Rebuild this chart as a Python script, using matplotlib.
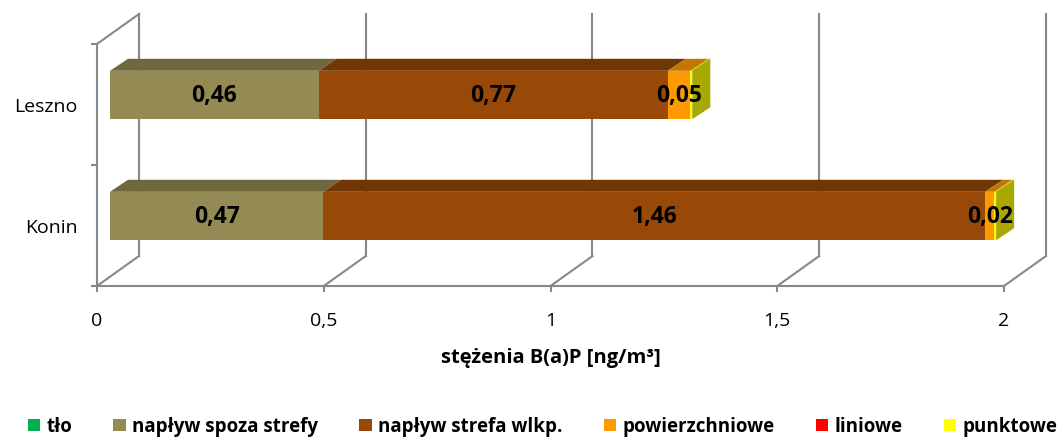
import matplotlib.pyplot as plt
from matplotlib.patches import Polygon, Rectangle

# data
cities = ["Konin", "Leszno"]
series = ["tło", "napływ spoza strefy", "napływ strefa wlkp.", "powierzchniowe", "liniowe", "punktowe"]
tlo = [0.0, 0.0]
naplyw_spoza = [0.47, 0.46]
naplyw_wlkp = [1.46, 0.77]
powierzchniowe = [0.02, 0.05]
liniowe = [0.0, 0.0]
punktowe = [0.004, 0.004]
values = [tlo, naplyw_spoza, naplyw_wlkp, powierzchniowe, liniowe, punktowe]
labelled = [1, 2, 3]  # series that get data labels

front = ["#00b050", "#948a54", "#984807", "#ff9900", "#ff0000", "#ffff00"]
top = ["#00843c", "#6f683f", "#723605", "#c47600", "#bf0000", "#c4c400"]
side = ["#007a38", "#676039", "#6a3204", "#b06a00", "#b00000", "#a8a800"]

plt.rcParams['font.family'] = ['Open Sans', 'DejaVu Sans']

W, H = 1062, 439
fig = plt.figure(figsize=(W / 100, H / 100), dpi=100)
sx, sy = 453.5, 121.0          # px per data unit
x0px, y0px = 97, 287           # pixel of (0, -0.5)
ax = fig.add_axes([x0px / W, (H - y0px) / H, (1052 - x0px) / W, (y0px - 10) / H])
xmax = (1052 - x0px) / sx
ax.set_xlim(0, xmax)
ax.set_ylim(-0.5, -0.5 + (y0px - 10) / sy)

# 3d geometry in data units
DX, DY = 42 / sx, 30 / sy          # full floor depth
BX, BY = 13 / sx, 9.5 / sy         # bar front plane shift
BDX, BDY = 18 / sx, 12 / sy        # bar depth
BH = 0.40                          # bar height

grid = "#888888"
ticks = [0, 0.5, 1, 1.5, 2]
for t in ticks:
    ax.plot([t, t + DX], [-0.5, -0.5 + DY], color=grid, lw=1.5, clip_on=False, zorder=1)
    ax.plot([t + DX, t + DX], [-0.5 + DY, 1.5 + DY], color=grid, lw=1.5, clip_on=False, zorder=1)
ax.plot([0, DX], [1.5, 1.5 + DY], color=grid, lw=1.5, clip_on=False, zorder=1)

for s in ["top", "right"]:
    ax.spines[s].set_visible(False)
for s in ["left", "bottom"]:
    ax.spines[s].set_color(grid)
    ax.spines[s].set_linewidth(1.5)
ax.spines["bottom"].set_bounds(0, 2)
ax.spines["left"].set_bounds(-0.5, 1.5)

ax.set_xticks(ticks)
ax.set_xticklabels(["0", "0,5", "1", "1,5", "2"])
ax.set_yticks([-0.5, 0.5, 1.5])
ax.set_yticklabels([])
ax.set_yticks([0, 1], minor=True)
ax.set_yticklabels(cities, minor=True)
ax.tick_params(axis="both", which="major", color=grid, width=1.5, length=4, labelsize=14, pad=14)
ax.tick_params(axis="y", which="minor", length=0, labelsize=14, pad=14)
ax.set_xlabel("stężenia B(a)P [ng/m³]", fontsize=14.5, fontweight="bold", labelpad=13)
ax.xaxis.label.set_x(1.0 / xmax)   # centre the title under the value 1
ax.patch.set_visible(False)

for i, city in enumerate(cities):
    left = BX
    yb = i + BY - BH / 2
    yt = i + BY + BH / 2
    last = None
    for k, vals in enumerate(values):
        v = vals[i]
        if v <= 0:
            continue
        ax.barh(i + BY, v, left=left, height=BH, color=front[k], linewidth=0, zorder=3)
        ax.add_patch(Polygon([(left, yt), (left + v, yt), (left + v + BDX, yt + BDY), (left + BDX, yt + BDY)],
                             closed=True, facecolor=top[k], edgecolor="none", zorder=2))
        if k in labelled:
            ax.text(left + v / 2, i + BY, f"{v:.2f}".replace(".", ","), ha="center", va="center",
                    fontsize=16.5, fontweight="bold", color="black", zorder=5)
        left += v
        last = k
    ax.add_patch(Polygon([(left, yb), (left, yt), (left + BDX, yt + BDY), (left + BDX, yb + BDY)],
                         closed=True, facecolor=side[last], edgecolor="none", zorder=2))

handles = [Rectangle((0, 0), 1, 1, facecolor=c, edgecolor="none") for c in front]
leg = fig.legend(handles, series, loc="lower center", bbox_to_anchor=(0.511, -0.035), ncol=6, frameon=False,
                 handlelength=0.65, handleheight=0.65, handletextpad=0.35, columnspacing=2.2,
                 prop={"size": 13.5, "weight": "bold"})

fig.savefig("out.png", dpi=100)
